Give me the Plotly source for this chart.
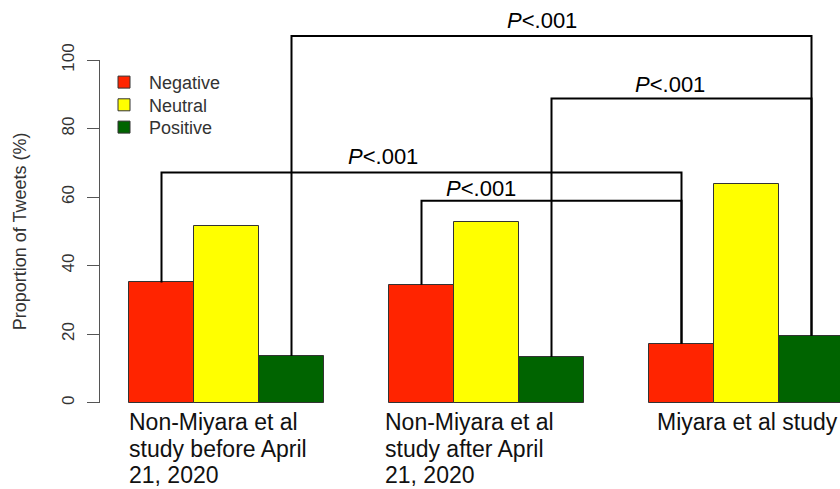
import plotly.graph_objects as go

# ---- data ----
groups = ["Non-Miyara et al\nstudy before April\n21, 2020",
          "Non-Miyara et al\nstudy after April\n21, 2020",
          "Miyara et al study"]
series = ["Negative", "Neutral", "Positive"]
negative = [35.1, 34.4, 17.2]
neutral = [51.7, 52.6, 63.7]
positive = [13.6, 13.3, 19.5]
colors = ["#FF2400", "#FFFF00", "#006400"]
yticks = [0, 20, 40, 60, 80, 100]
p_text = "<i>P</i>&lt;.001"
# brackets: (series index, group from, group to, bracket height)
brackets = [(2, 0, 2, 107.0), (2, 1, 2, 88.8), (0, 0, 2, 67.2), (0, 1, 2, 58.9)]
# label positions (x in bar units, y in % units)
p_label_pos = [(7.36, 111.4), (9.32, 92.9), (4.90, 71.8), (6.42, 62.4)]
group_label_x = [0.97, 4.91, 9.09]

values = [negative, neutral, positive]

def bar_x(s, g):
    return 1 + 4 * g + s + 0.5

# geometry
W, H = 840, 489
PX_PER_U = 65.0
X0_PX = 64.0
Y0_PX, Y100_PX = 402.7, 60.0
py = (Y0_PX - Y100_PX) / 100.0
xr = [(0 - X0_PX) / PX_PER_U, (W - X0_PX) / PX_PER_U]
yr = [-(H - Y0_PX) / py, Y0_PX / py]

fig = go.Figure()
legend_ids = ["legend", "legend2", "legend3"]
for s, name in enumerate(series):
    fig.add_trace(go.Bar(
        x=[bar_x(s, g) for g in range(len(groups))],
        y=values[s], width=1.0, name=name, legend=legend_ids[s],
        marker=dict(color=colors[s], line=dict(color="#333333", width=1)),
        hoverinfo="skip"))

for (s, g1, g2, h) in brackets:
    xa, xb = bar_x(s, g1), bar_x(s, g2)
    fig.add_trace(go.Scatter(
        x=[xa, xa, xb, xb], y=[values[s][g1], h, h, values[s][g2]],
        mode="lines", line=dict(color="black", width=2),
        showlegend=False, hoverinfo="skip"))

# dummy trace for the visible y axis
fig.add_trace(go.Scatter(x=[0], y=[0], xaxis="x2", yaxis="y2", mode="markers",
                         marker=dict(opacity=0), showlegend=False, hoverinfo="skip"))

ann = []
for (x, y) in p_label_pos:
    ann.append(dict(x=x, y=y, xref="x", yref="y", text=p_text, showarrow=False,
                    xanchor="center", yanchor="middle",
                    font=dict(size=22, color="black")))
LINE_H = 26.7 / py
for g, lab in enumerate(groups):
    for i, line in enumerate(lab.split("\n")):
        ann.append(dict(x=group_label_x[g], y=(Y0_PX - 422) / py - i * LINE_H,
                        xref="x", yref="y", text=line, showarrow=False,
                        xanchor="left", yanchor="middle",
                        font=dict(size=23, color="#111111")))
ann.append(dict(x=20 / W, y=50, xref="paper", yref="y2", text="Proportion of Tweets (%)",
                showarrow=False, textangle=-90, xanchor="center", yanchor="middle",
                font=dict(size=18, color="#333333")))

legend_centers = [83.3, 106.0, 128.3]
leg = {}
for lid, c in zip(legend_ids, legend_centers):
    leg[lid] = dict(x=99 / W, y=1 - (c - 19.4) / H, xanchor="left", yanchor="top",
                    itemwidth=40,
                    font=dict(size=18, color="#333333"), bgcolor="rgba(0,0,0,0)")

fig.update_layout(
    width=W, height=H, margin=dict(l=0, r=0, t=0, b=0, autoexpand=False),
    paper_bgcolor="white", plot_bgcolor="rgba(0,0,0,0)",
    font=dict(family="Liberation Sans, Arial, sans-serif"),
    barmode="overlay", bargap=0,
    xaxis=dict(range=xr, visible=False, domain=[0, 1], automargin=False),
    yaxis=dict(range=yr, visible=False, domain=[0, 1], automargin=False),
    xaxis2=dict(domain=[100 / W, 1], anchor="y2", visible=False, range=[0, 1], automargin=False),
    yaxis2=dict(domain=[(H - Y0_PX) / H, (H - Y100_PX) / H], anchor="x2", range=[0, 100],
                tickvals=yticks, ticks="outside", ticklen=12, tickcolor="#555555",
                showline=True, linecolor="#555555", linewidth=1, showgrid=False,
                zeroline=False, tickangle=-90, ticklabelstandoff=6, automargin=False,
                tickfont=dict(size=17, color="#333333")),
    annotations=ann,
    showlegend=True,
    **leg,
)
fig.write_html("out.html", config={"displayModeBar": False},
               post_script="document.body.style.margin='0';document.body.style.overflow='hidden';")
